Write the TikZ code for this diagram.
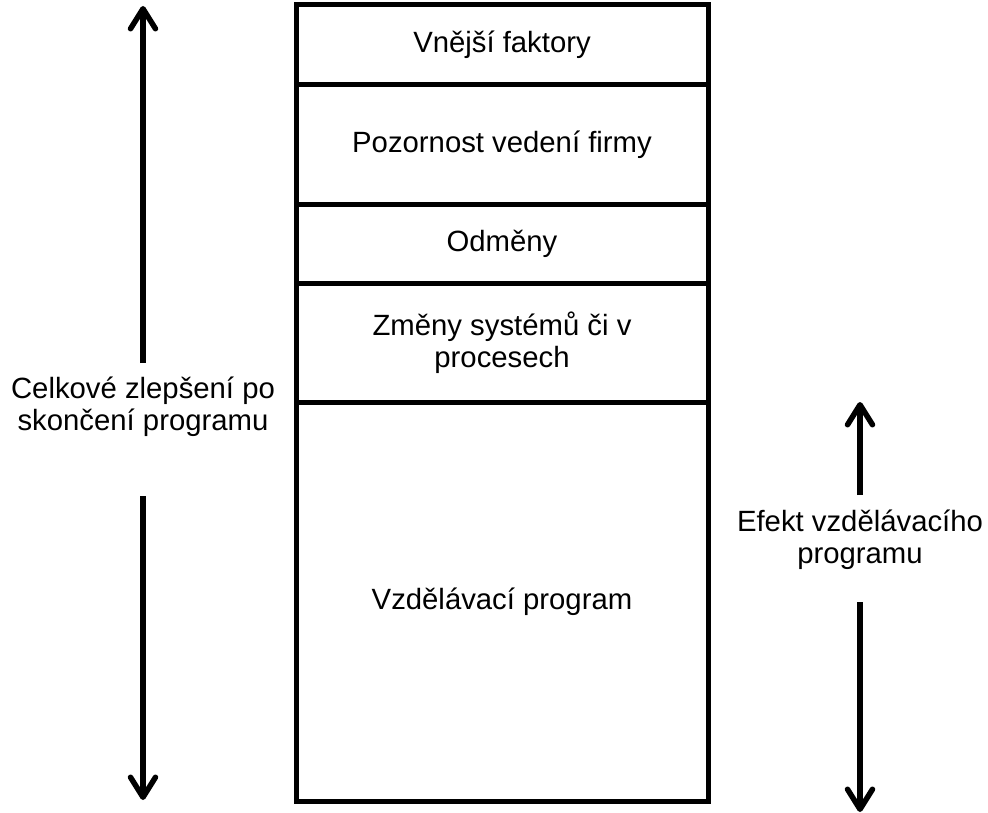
\documentclass[tikz,border=0pt]{standalone}
\usepackage{fontspec}
\setmainfont{Liberation Sans}
\usetikzlibrary{positioning,arrows.meta}

\begin{document}
\begin{tikzpicture}[
   x=1pt,y=-1pt,
   font=\fontsize{29.3}{32}\selectfont,
   cell/.style={draw,line width=5pt,minimum width=412pt,inner sep=0pt,outer sep=0pt,align=center},
   lbl/.style={align=center,inner sep=0pt},
   to/.style={-{Straight Barb[length=20pt,width=25pt,line cap=round,line join=round]},line width=5.5pt},
   every node/.style={anchor=center}]
\useasboundingbox (0,0) rectangle (988,813);
% the column of factors
\node[cell,minimum height=80pt,anchor=north] (V) at (502,5) {Vnější faktory};
\node[cell,minimum height=120pt,below=0pt of V] (P) {Pozornost vedení firmy};
\node[cell,minimum height=78pt,below=0pt of P] (O) {Odměny};
\node[cell,minimum height=119pt,below=0pt of O] (Z) {Změny systémů či v\\procesech};
\node[cell,minimum height=399pt,below=0pt of Z] (E) {Vzdělávací program};
% left: overall improvement
\node[lbl] (celk) at (143,407) {Celkové zlepšení po\\skončení programu};
\coordinate (celkTop) at (143,6);
\coordinate (celkUp) at (143,363);
\coordinate (celkDown) at (143,496);
\coordinate (celkBot) at (143,800);
\draw[to] (celkUp) -- (celkTop);
\draw[to] (celkDown) -- (celkBot);
% right: effect of the programme
\node[lbl] (ef) at (860,540) {Efekt vzdělávacího\\programu};
\coordinate (efTop) at (860,402);
\coordinate (efUp) at (860,495);
\coordinate (efDown) at (860,602);
\coordinate (efBot) at (860,812);
\draw[to] (efUp) -- (efTop);
\draw[to] (efDown) -- (efBot);
\end{tikzpicture}
\end{document}
